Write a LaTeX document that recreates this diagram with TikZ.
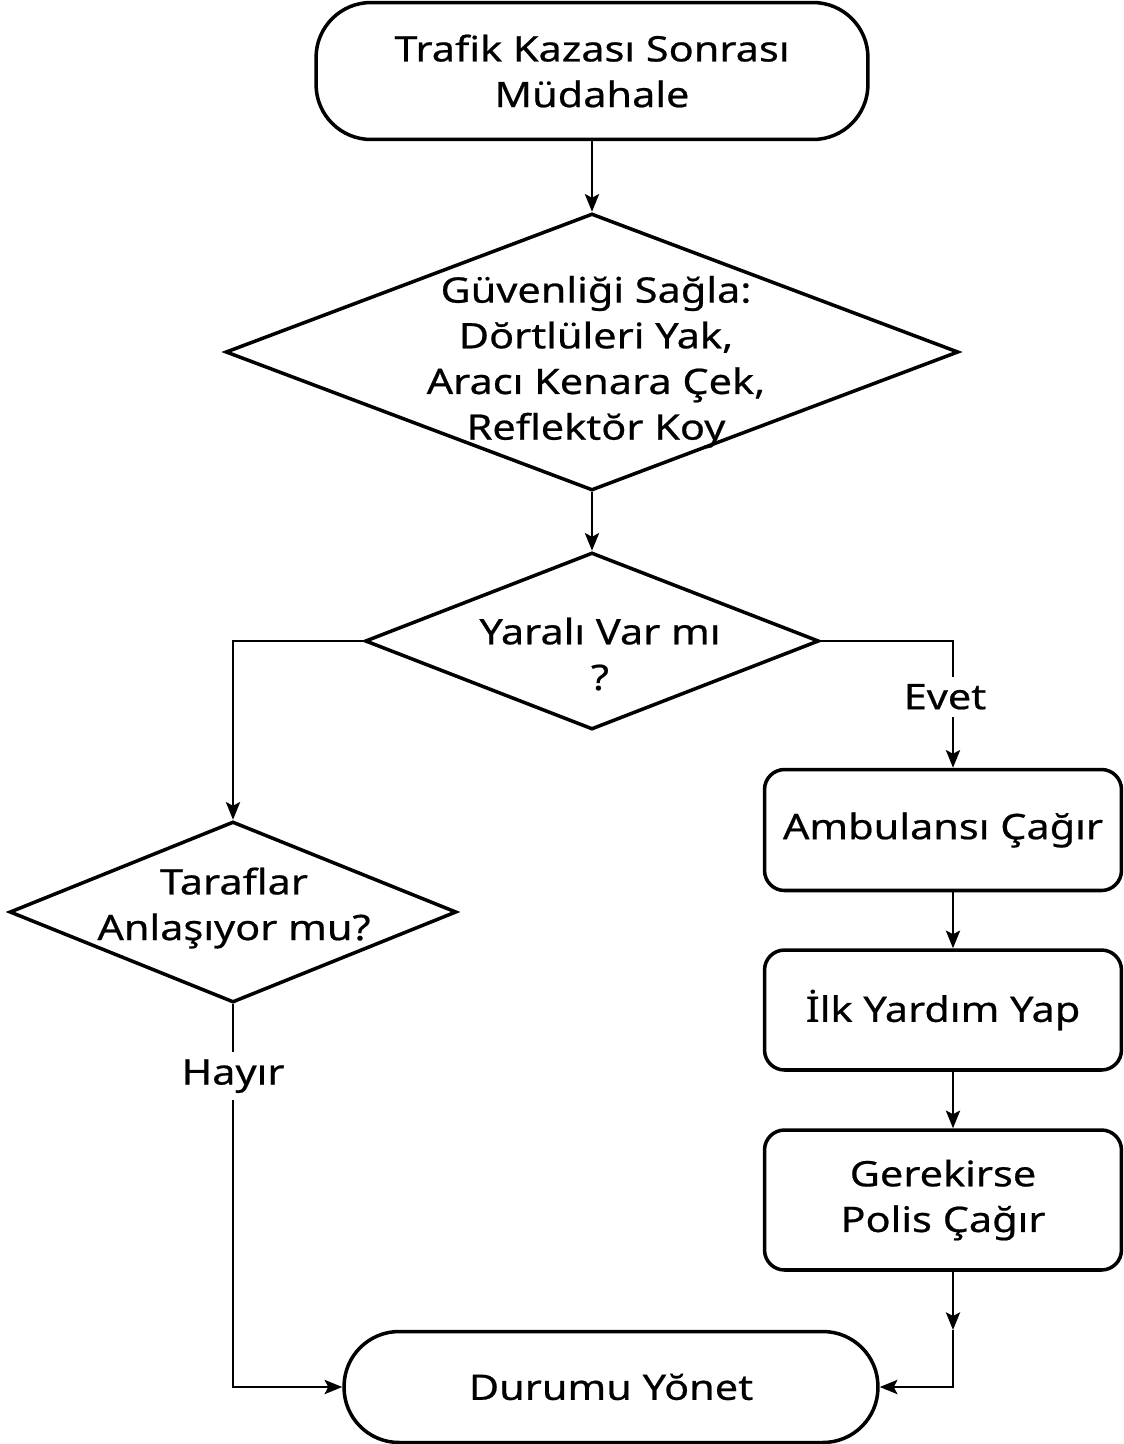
\documentclass[tikz,border=0pt]{standalone}
\usepackage{fontspec}
\setmainfont[FakeStretch=1.18,FakeBold=0.6]{Noto Sans}
\usepackage{tikz}
\usetikzlibrary{arrows.meta,shapes.geometric,positioning}
\tikzset{
  term/.style={draw,line width=2pt,rectangle,rounded corners=1.1cm,inner sep=0pt,align=center},
  box/.style={draw,line width=2pt,rectangle,rounded corners=0.4cm,minimum width=7.14cm,inner sep=0pt,align=center},
  decision/.style={draw,line width=2pt,diamond,inner sep=0pt},
  txt/.style={align=center,inner sep=0pt},
  lbl/.style={fill=white,inner sep=4pt},
  arr/.style={line width=1.6pt,-{Stealth[length=10pt,width=8pt,inset=2pt]}},
}

\begin{document}
\begin{tikzpicture}[x=0.02cm,y=-0.02cm,font=\fontsize{20pt}{26pt}\selectfont]
\useasboundingbox (0,0) rectangle (1124,1444);
% main column
\node[term,minimum width=11.04cm,minimum height=2.74cm] (start) at (592,71) {Trafik Kazası Sonrası\\Müdahale};
\node[decision,minimum width=14.66cm,minimum height=5.54cm] (safe) at (592,352) {};
\node[txt] (safetxt) at (596,362) {Güvenliği Sağla:\\Dŏrtlüleri Yak,\\Aracı Kenara Çek,\\Reflektŏr Koy};
\node[decision,minimum width=9.08cm,minimum height=3.54cm] (yarali) at (592,641) {};
\node[txt] (yaralitxt) at (600,654) {Yaralı Var mı\\?};
% left branch
\node[decision,minimum width=8.94cm,minimum height=3.62cm] (taraf) at (233,912) {};
\node[txt] (taraftxt) at (234,908) {Taraflar\\Anlaşıyor mu?};
% right branch
\coordinate (rcol) at (953,0);
\node[box,minimum height=2.42cm] (amb) at (943,830) {Ambulansı Çağır};
\node[box,minimum height=2.40cm] (ilk) at (943,1010) {İlk Yardım Yap};
\node[box,minimum height=2.80cm] (ger) at (943,1200) {Gerekirse\\Polis Çağır};
\coordinate (rmid) at (953,1330);
% end
\node[term,minimum width=10.68cm,minimum height=2.22cm] (dur) at (611,1387) {Durumu Yŏnet};

\draw[arr] (start.south) -- (safe.north);
\draw[arr] (safe.south) -- (yarali.north);
\draw[arr] (yarali.west) -| (taraf.north);
\draw[arr] (yarali.east) -| node[lbl,pos=0.72,xshift=-0.16cm] (evet) {Evet} (amb.north -| rcol);
\draw[arr] (amb.south -| rcol) -- (ilk.north -| rcol);
\draw[arr] (ilk.south -| rcol) -- (ger.north -| rcol);
\draw[arr] (ger.south -| rcol) -- (rmid);
\draw[arr] (rmid) |- (dur.east);
\draw[arr] (taraf.south) |- node[lbl,pos=0.094] (hayir) {Hayır} (dur.west);
\end{tikzpicture}
\end{document}
